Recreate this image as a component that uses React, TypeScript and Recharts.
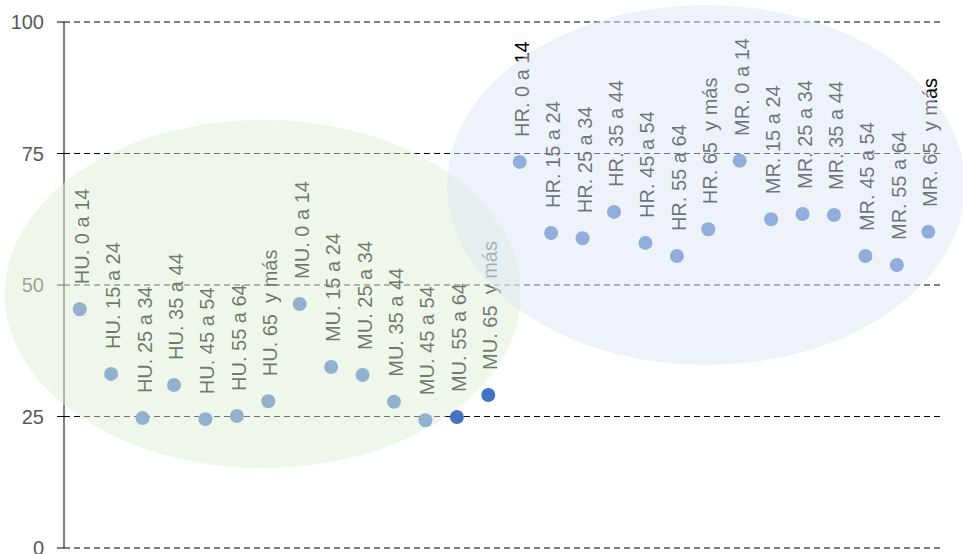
import { ScatterChart, Scatter, XAxis, YAxis, CartesianGrid, ReferenceArea } from 'recharts'

// 年齢層ごとの値（HU / MU / HR / MR）
const categories = [
  'HU. 0 a 14', 'HU. 15 a 24', 'HU. 25 a 34', 'HU. 35 a 44', 'HU. 45 a 54', 'HU. 55 a 64', 'HU. 65  y más',
  'MU. 0 a 14', 'MU. 15 a 24', 'MU. 25 a 34', 'MU. 35 a 44', 'MU. 45 a 54', 'MU. 55 a 64', 'MU. 65  y más',
  'HR. 0 a 14', 'HR. 15 a 24', 'HR. 25 a 34', 'HR. 35 a 44', 'HR. 45 a 54', 'HR. 55 a 64', 'HR. 65  y más',
  'MR. 0 a 14', 'MR. 15 a 24', 'MR. 25 a 34', 'MR. 35 a 44', 'MR. 45 a 54', 'MR. 55 a 64', 'MR. 65  y más',
]

const values = [
  45.4, 33.1, 24.7, 31.0, 24.5, 25.1, 27.9,
  46.4, 34.4, 32.9, 27.8, 24.3, 24.9, 29.1,
  73.4, 59.9, 58.9, 63.9, 58.0, 55.5, 60.6,
  73.6, 62.5, 63.5, 63.3, 55.5, 53.8, 60.1,
]

const yTicks = [0, 25, 50, 75, 100]

// 強調用の楕円（データ座標）
const urbanZone = { x1: -2.38, x2: 14.04, y1: 15.2, y2: 81.4 }
const ruralZone = { x1: 11.69, x2: 28.17, y1: 34.8, y2: 103.2 }

const data = categories.map((label, i) => ({ x: i, y: values[i], label }))

const Dot = (props: any) => {
  const { cx, cy, payload } = props
  return (
    <g>
      <circle cx={cx} cy={cy} r={7} fill="#4472c4" />
      <text
        x={cx + 9}
        y={cy - 25}
        transform={`rotate(-90 ${cx + 9} ${cy - 25})`}
        textAnchor="start"
        fontSize={20}
        fill="#000"
        style={{ whiteSpace: 'pre' }}
      >
        {payload.label}
      </text>
    </g>
  )
}

const Ellipse = (color: string) => (props: any) => {
  const { x, y, width, height } = props
  return (
    <ellipse
      cx={x + width / 2}
      cy={y + height / 2}
      rx={width / 2}
      ry={height / 2}
      fill={color}
      fillOpacity={0.5}
    />
  )
}

const Nothing = () => <g />

export default function App() {
  return (
    <div style={{ position: 'absolute', left: 0, top: 0, width: 963, height: 554, fontFamily: 'Liberation Sans, Arial, sans-serif' }}>
      <ScatterChart width={963} height={554} margin={{ top: 22, right: 19, bottom: 6, left: 0 }}>
        <CartesianGrid horizontal vertical={false} stroke="#000" strokeDasharray="6 4" />
        <XAxis type="number" dataKey="x" domain={[-0.5, 27.5]} hide />
        <YAxis
          type="number"
          dataKey="y"
          domain={[0, 100]}
          ticks={yTicks}
          interval={0}
          width={64}
          tickSize={7}
          tickMargin={13}
          stroke="#000"
          tick={{ fill: '#595959', fontSize: 20 }}
        />
        <Scatter data={data} shape={<Dot />} isAnimationActive={false} />
      </ScatterChart>
      {/* 楕円は別レイヤーで上に重ねる */}
      <div style={{ position: 'absolute', left: 0, top: 0, pointerEvents: 'none' }}>
        <ScatterChart width={963} height={554} margin={{ top: 22, right: 19, bottom: 6, left: 64 }}>
          <XAxis type="number" dataKey="x" domain={[-0.5, 27.5]} hide />
          <YAxis type="number" dataKey="y" domain={[0, 100]} hide />
          <Scatter data={data} shape={<Nothing />} isAnimationActive={false} />
          <ReferenceArea {...urbanZone} ifOverflow="visible" shape={Ellipse('#dfefd7')} />
          <ReferenceArea {...ruralZone} ifOverflow="visible" shape={Ellipse('#dde7f5')} />
        </ScatterChart>
      </div>
    </div>
  )
}
